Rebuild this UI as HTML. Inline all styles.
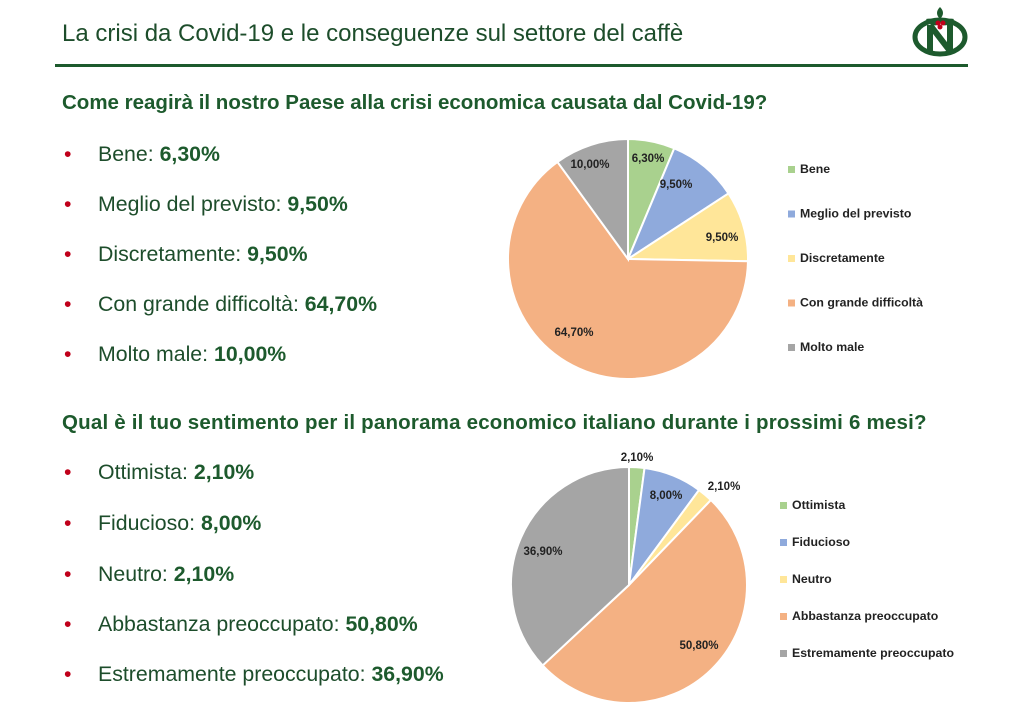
<!DOCTYPE html>
<html><head><meta charset="utf-8"><style>
body{margin:0;width:1024px;height:724px;background:#fff;font-family:"Liberation Sans",sans-serif;position:relative;overflow:hidden}
.t{position:absolute;left:62px;top:20px;font-size:24px;color:#1d4d2b}
.hl{position:absolute;left:55px;top:64px;width:913px;height:3px;background:#1d5a2d}
.h{position:absolute;left:62px;font-size:20.5px;font-weight:bold;color:#1d5a2d}
.b{position:absolute;left:64px;font-size:21.3px;color:#1d4d2b}
.b:before{content:"•";color:#c0001a;position:absolute;left:0}
.b span{margin-left:34px}
.b b{color:#1d5a2d}
svg{position:absolute;left:0;top:0}
</style></head><body>
<div class="t">La crisi da Covid-19 e le conseguenze sul settore del caffè</div>
<div class="hl"></div>
<div class="h" style="top:91px">Come reagirà il nostro Paese alla crisi economica causata dal Covid-19?</div>
<div class="h" style="top:411px;letter-spacing:0.2px">Qual è il tuo sentimento per il panorama economico italiano durante i prossimi 6 mesi?</div>
<div class="b" style="top:142px"><span>Bene: <b>6,30%</b></span></div>
<div class="b" style="top:192px"><span>Meglio del previsto: <b>9,50%</b></span></div>
<div class="b" style="top:242px"><span>Discretamente: <b>9,50%</b></span></div>
<div class="b" style="top:292px"><span>Con grande difficoltà: <b>64,70%</b></span></div>
<div class="b" style="top:342px"><span>Molto male: <b>10,00%</b></span></div>
<div class="b" style="top:460px"><span>Ottimista: <b>2,10%</b></span></div>
<div class="b" style="top:511px"><span>Fiducioso: <b>8,00%</b></span></div>
<div class="b" style="top:562px"><span>Neutro: <b>2,10%</b></span></div>
<div class="b" style="top:612px"><span>Abbastanza preoccupato: <b>50,80%</b></span></div>
<div class="b" style="top:662px"><span>Estremamente preoccupato: <b>36,90%</b></span></div>
<svg id="s" width="1024" height="724" font-family="Liberation Sans, sans-serif">
<g transform="translate(940,37)">
<ellipse cx="0" cy="0" rx="25" ry="17" fill="none" stroke="#1d5a2d" stroke-width="5"/>
<path d="M-10,-12 L-10,16 M-10,-12 L10,14 M10,-14 L10,14" stroke="#1d5a2d" stroke-width="6" fill="none"/>
<path d="M0,-30 q6,6 0,12 q-6,-6 0,-12z M-14,-18 q8,-2 12,6 q-8,2 -12,-6z M14,-18 q-8,-2 -12,6 q8,2 12,-6z" fill="#1d5a2d"/>
<circle cx="-2" cy="-14" r="2.5" fill="#c0001a"/><circle cx="3" cy="-14" r="2.5" fill="#c0001a"/><circle cx="0" cy="-10" r="2.5" fill="#c0001a"/>
</g>
</svg>
<script>
var s=document.getElementById('s'),NS='http://www.w3.org/2000/svg';
var C=['#a9d18e','#8faadc','#ffe699','#f4b183','#a5a5a5'];
function el(t,a,x){var e=document.createElementNS(NS,t);for(var k in a)e.setAttribute(k,a[k]);if(x)e.textContent=x;s.appendChild(e);return e}
function pie(cx,cy,r,v,labs,lp,leg,lx,ly,dy){
 var a=0,tot=v.reduce((p,q)=>p+q);
 v.forEach(function(x,i){var a1=a+x/tot*2*Math.PI;
  var p=(t)=>[cx+r*Math.sin(t),cy-r*Math.cos(t)];var A=p(a),B=p(a1);
  el('path',{d:'M'+cx+','+cy+'L'+A+'A'+r+','+r+' 0 '+(a1-a>Math.PI?1:0)+' 1 '+B+'Z',fill:C[i],stroke:'#fff','stroke-width':2});
  a=a1;});
 labs.forEach(function(l,i){el('text',{x:lp[i][0],y:lp[i][1],'font-size':11.5,'font-weight':'bold',fill:'#222','text-anchor':'middle'},l)});
 leg.forEach(function(l,i){var y=ly+i*dy;el('rect',{x:lx,y:y-7,width:7,height:7,fill:C[i]});el('text',{x:lx+12,y:y,'font-size':12.3,'font-weight':'bold',fill:'#222'},l)});
}
pie(628,259,120,[6.3,9.5,9.5,64.7,10],['6,30%','9,50%','9,50%','64,70%','10,00%'],
 [[648,162],[676,188],[722,241],[574,336],[590,168]],['Bene','Meglio del previsto','Discretamente','Con grande difficoltà','Molto male'],788,173,44.5);
pie(629,585,118,[2.1,8,2.1,50.8,36.9],['2,10%','8,00%','2,10%','50,80%','36,90%'],
 [[637,461],[666,499],[724,490],[699,649],[543,555]],['Ottimista','Fiducioso','Neutro','Abbastanza preoccupato','Estremamente preoccupato'],780,509,37);
</script>
</body></html>
